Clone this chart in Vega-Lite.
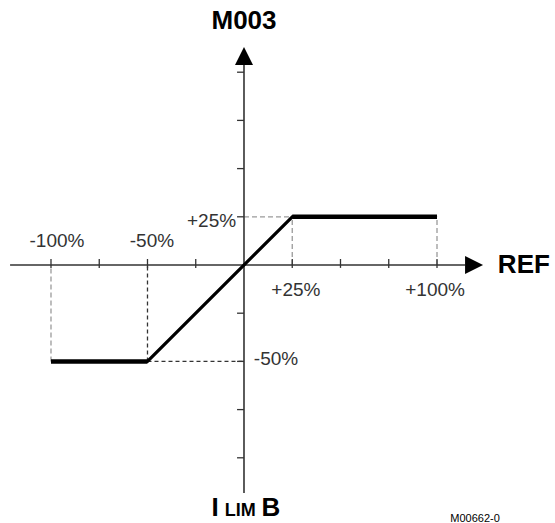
{
  "$schema": "https://vega.github.io/schema/vega-lite/v6.json",
  "width": 555,
  "height": 523,
  "padding": 0,
  "autosize": "none",
  "background": "white",
  "config": {"view": {"stroke": null}},
  "datasets": {
    "axes": [
      {"x": -121.2, "y": 0, "x2": 114.5, "y2": 0},
      {"x": 0, "y": -118.3, "x2": 0, "y2": 103.7}
    ],
    "ticks": [
      {"x": -100, "y": -1.5, "x2": -100, "y2": 3.1},
      {"x": -75, "y": -1.5, "x2": -75, "y2": 3.1},
      {"x": -50, "y": -1.5, "x2": -50, "y2": 3.1},
      {"x": -25, "y": -1.5, "x2": -25, "y2": 3.1},
      {"x": 25, "y": -1.5, "x2": 25, "y2": 3.1},
      {"x": 50, "y": -1.5, "x2": 50, "y2": 3.1},
      {"x": 75, "y": -1.5, "x2": 75, "y2": 3.1},
      {"x": 100, "y": -1.5, "x2": 100, "y2": 3.1},
      {"x": -3.6, "y": 100, "x2": 0, "y2": 100},
      {"x": -3.6, "y": 75, "x2": 0, "y2": 75},
      {"x": -3.6, "y": 50, "x2": 0, "y2": 50},
      {"x": -3.6, "y": 25, "x2": 0, "y2": 25},
      {"x": -3.6, "y": -25, "x2": 0, "y2": -25},
      {"x": -3.6, "y": -50, "x2": 0, "y2": -50},
      {"x": -3.6, "y": -75, "x2": 0, "y2": -75},
      {"x": -3.6, "y": -100, "x2": 0, "y2": -100}
    ],
    "guidesLight": [
      {"x": -100, "y": -50, "x2": -100, "y2": 0},
      {"x": 25, "y": 0, "x2": 25, "y2": 25},
      {"x": 0, "y": 25, "x2": 25, "y2": 25},
      {"x": 100, "y": 0, "x2": 100, "y2": 25}
    ],
    "guidesDark": [
      {"x": -50, "y": -50, "x2": -50, "y2": 0},
      {"x": -50, "y": -50, "x2": 0, "y2": -50}
    ],
    "slope": [
      {"x": -50, "y": -50, "x2": 25, "y2": 25}
    ],
    "plateaus": [
      {"x": -100, "y": -50, "x2": -50, "y2": -50},
      {"x": 25, "y": 25, "x2": 100, "y2": 25}
    ],
    "arrowUp": [{"x": 0, "y": 108.4}],
    "arrowRight": [{"x": 119.2, "y": 0}],
    "tickLabels": [
      {"x": -96.9, "y": 12.7, "t": "-100%"},
      {"x": -47.7, "y": 12.7, "t": "-50%"},
      {"x": -16.8, "y": 23, "t": "+25%"},
      {"x": 26.9, "y": -13, "t": "+25%"},
      {"x": 99, "y": -13, "t": "+100%"},
      {"x": 16.6, "y": -48.8, "t": "-50%"}
    ],
    "titles": [
      {"x": 145, "y": 0, "t": "REF"},
      {"x": 0, "y": 126.6, "t": "M003"}
    ],
    "bigBottom": [
      {"x": -15, "y": -130.2, "t": "I"},
      {"x": 14, "y": -130.2, "t": "B"}
    ],
    "smallBottom": [
      {"x": -2, "y": -130.2, "t": "LIM"}
    ],
    "code": [
      {"x": 119.7, "y": -131.7, "t": "M00662-0"}
    ]
  },
  "encoding": {
    "x": {"field": "x", "type": "quantitative", "scale": {"domain": [-126.42, 161.14], "nice": false, "zero": false}, "axis": null},
    "y": {"field": "y", "type": "quantitative", "scale": {"domain": [-133.82, 137.45], "nice": false, "zero": false}, "axis": null}
  },
  "layer": [
    {
      "data": {"name": "guidesLight"},
      "mark": {"type": "rule", "color": "#9a9a9a", "strokeWidth": 1.3, "strokeDash": [5, 3]},
      "encoding": {"x2": {"field": "x2"}, "y2": {"field": "y2"}}
    },
    {
      "data": {"name": "guidesDark"},
      "mark": {"type": "rule", "color": "#333333", "strokeWidth": 1.3, "strokeDash": [4, 3]},
      "encoding": {"x2": {"field": "x2"}, "y2": {"field": "y2"}}
    },
    {
      "data": {"name": "axes"},
      "mark": {"type": "rule", "color": "#333333", "strokeWidth": 1.6},
      "encoding": {"x2": {"field": "x2"}, "y2": {"field": "y2"}}
    },
    {
      "data": {"name": "ticks"},
      "mark": {"type": "rule", "color": "#333333", "strokeWidth": 1.3},
      "encoding": {"x2": {"field": "x2"}, "y2": {"field": "y2"}}
    },
    {
      "data": {"name": "slope"},
      "mark": {"type": "rule", "color": "#000000", "strokeWidth": 3.2, "strokeCap": "round"},
      "encoding": {"x2": {"field": "x2"}, "y2": {"field": "y2"}}
    },
    {
      "data": {"name": "plateaus"},
      "mark": {"type": "rule", "color": "#000000", "strokeWidth": 4.5},
      "encoding": {"x2": {"field": "x2"}, "y2": {"field": "y2"}}
    },
    {
      "data": {"name": "arrowUp"},
      "mark": {"type": "point", "shape": "M0,-1L1,1L-1,1Z", "size": 324, "filled": true, "color": "#000000", "opacity": 1}
    },
    {
      "data": {"name": "arrowRight"},
      "mark": {"type": "point", "shape": "M-1,-1L1,0L-1,1Z", "size": 324, "filled": true, "color": "#000000", "opacity": 1}
    },
    {
      "data": {"name": "tickLabels"},
      "mark": {"type": "text", "font": "Liberation Sans", "fontSize": 19, "color": "#333333", "align": "center", "baseline": "middle"},
      "encoding": {"text": {"field": "t"}}
    },
    {
      "data": {"name": "titles"},
      "mark": {"type": "text", "font": "Liberation Sans", "fontSize": 26, "fontWeight": "bold", "color": "#000000", "align": "center", "baseline": "middle"},
      "encoding": {"text": {"field": "t"}}
    },
    {
      "data": {"name": "bigBottom"},
      "mark": {"type": "text", "font": "Liberation Sans", "fontSize": 26, "fontWeight": "bold", "color": "#000000", "align": "center", "baseline": "alphabetic"},
      "encoding": {"text": {"field": "t"}}
    },
    {
      "data": {"name": "smallBottom"},
      "mark": {"type": "text", "font": "Liberation Sans", "fontSize": 18, "fontWeight": "bold", "color": "#000000", "align": "center", "baseline": "alphabetic"},
      "encoding": {"text": {"field": "t"}}
    },
    {
      "data": {"name": "code"},
      "mark": {"type": "text", "font": "Liberation Sans", "fontSize": 11, "color": "#000000", "align": "center", "baseline": "middle"},
      "encoding": {"text": {"field": "t"}}
    }
  ]
}
